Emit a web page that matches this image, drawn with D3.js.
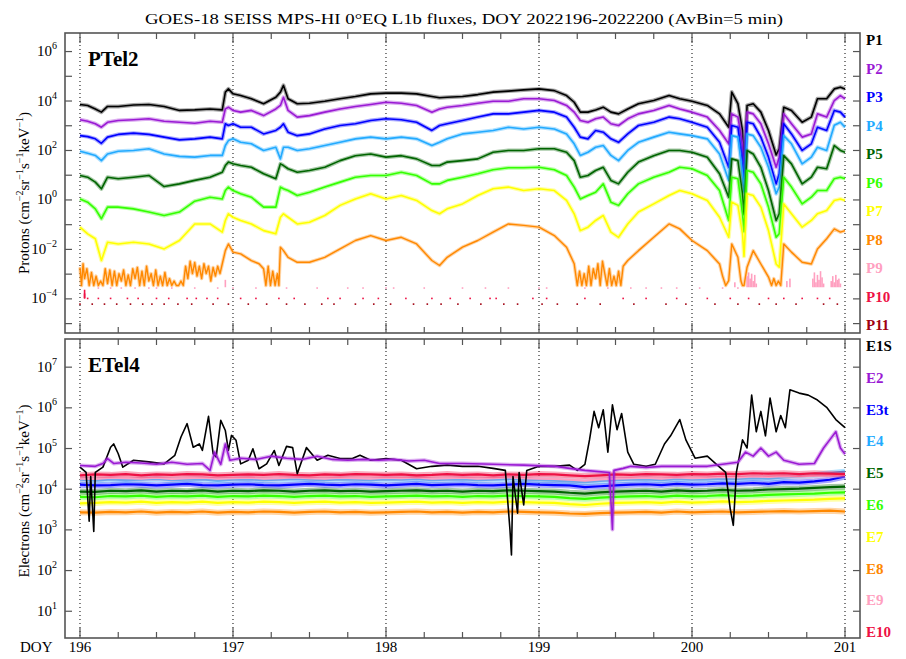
<!DOCTYPE html>
<html><head><meta charset="utf-8">
<script src="https://cdn.jsdelivr.net/npm/d3@7"></script>
<style>
body{margin:0;background:#fff}
svg{display:block}
text{font-family:"Liberation Serif","DejaVu Serif",serif;fill:#000}
</style>
</head><body>
<svg id="chart" width="906" height="659"></svg>
<script>
// ---- Proton telescope (PTel2), log10 flux, sampled at pT (day of year) ----
const pT = [196.00,196.05,196.10,196.14,196.18,196.25,196.35,196.45,196.55,196.65,196.75,196.85,196.93,196.95,196.97,197.00,197.05,197.12,197.20,
197.28,197.31,197.33,197.36,197.42,197.50,197.60,197.70,197.80,197.90,198.00,198.10,198.20,198.30,198.35,198.40,198.50,
198.60,198.70,198.80,198.90,199.00,199.10,199.18,199.23,199.27,199.32,199.37,199.42,199.47,199.52,199.58,199.65,199.75,199.85,
199.92,200.00,200.10,200.18,200.24,200.26,200.30,200.33,200.34,200.36,200.40,200.45,200.50,200.55,200.57,200.60,200.65,200.72,200.78,200.82,200.88,200.93,200.97,201.00];

const P1 = [3.84,3.80,3.66,3.53,3.76,3.76,3.82,3.84,3.76,3.60,3.62,3.66,3.62,4.34,4.47,4.27,4.20,4.07,3.87,
4.13,4.34,4.61,4.07,3.87,3.89,3.97,4.07,4.16,4.27,4.30,4.30,4.27,4.16,4.11,4.13,4.16,
4.24,4.34,4.38,4.43,4.47,4.40,4.20,3.93,3.53,3.53,3.62,3.73,3.53,3.46,3.66,3.87,4.00,4.20,
4.07,3.97,3.80,3.46,2.92,4.34,3.87,2.79,1.20,3.80,3.87,3.53,2.79,1.80,2.05,3.73,3.60,3.12,3.33,4.07,4.07,4.47,4.54,4.47];
const P2 = [3.22,3.16,3.06,2.92,3.12,3.19,3.22,3.26,3.16,3.12,3.08,3.16,3.12,3.66,3.73,3.60,3.53,3.60,3.39,
3.66,3.80,4.13,3.60,3.33,3.39,3.53,3.66,3.76,3.84,3.93,3.89,3.80,3.53,3.66,3.73,3.80,
3.89,3.97,3.97,4.07,4.07,4.00,3.80,3.53,3.19,3.12,3.26,3.33,3.06,2.99,3.26,3.46,3.60,3.80,
3.66,3.53,3.33,2.79,2.25,3.46,3.33,2.25,0.90,3.53,3.46,3.06,2.25,1.30,1.71,3.46,3.06,2.52,2.65,3.46,3.33,4.00,4.20,4.07];
const P3 = [2.58,2.54,2.45,2.27,2.52,2.63,2.68,2.63,2.52,2.41,2.45,2.52,2.45,3.06,2.99,3.06,2.92,2.92,2.65,
2.79,2.92,3.06,2.72,2.58,2.65,2.85,2.99,3.06,3.19,3.26,3.22,3.12,2.79,2.99,3.06,3.19,
3.33,3.46,3.46,3.53,3.60,3.53,3.33,2.92,2.52,2.45,2.79,2.72,2.45,2.31,2.65,2.99,3.12,3.33,
3.26,3.12,2.92,2.31,1.30,2.99,2.92,1.57,0.60,3.12,3.06,2.52,1.71,0.63,1.04,3.06,2.65,1.98,2.25,2.92,2.79,3.60,3.53,3.33];
const P4 = [1.95,1.87,1.78,1.57,1.84,1.95,1.98,2.05,1.84,1.74,1.71,1.78,1.78,2.18,2.38,2.45,2.31,2.25,1.98,
2.11,1.64,2.11,2.11,1.98,2.05,2.18,2.31,2.45,2.52,2.45,2.52,2.45,2.18,2.31,2.45,2.65,
2.72,2.79,2.92,2.85,2.92,2.85,2.65,2.25,1.78,1.91,2.11,2.18,1.78,1.57,1.98,2.31,2.52,2.72,
2.65,2.58,2.45,1.84,0.77,2.58,2.52,1.04,0.30,2.65,2.58,2.11,1.30,0.23,0.50,2.58,2.25,1.44,1.71,2.11,1.98,3.00,3.12,2.92];
const P5 = [0.97,0.90,0.70,0.43,0.90,0.84,0.90,0.97,0.52,0.63,0.77,0.90,1.10,1.37,1.51,1.44,1.37,1.30,1.04,
0.84,1.44,1.37,1.24,1.10,1.17,1.30,1.57,1.77,1.84,1.71,1.77,1.64,1.37,1.37,1.51,1.57,
1.64,1.91,1.98,1.98,2.05,2.05,1.91,1.57,0.90,0.97,1.17,1.30,0.77,0.63,1.10,1.51,1.77,1.98,
1.98,1.91,1.71,1.04,0.09,1.64,1.57,0.23,-0.60,1.98,1.84,1.30,0.36,-0.85,-0.58,1.77,1.44,0.63,0.90,1.30,1.24,2.18,1.98,1.91];
const P6 = [0.02,-0.11,-0.38,-0.78,-0.31,-0.31,-0.38,-0.51,-0.65,-0.51,-0.07,0.09,0.02,0.36,0.50,0.36,0.23,0.09,-0.31,
-0.31,0.50,0.43,0.36,0.16,0.29,0.50,0.70,0.90,0.97,0.97,1.10,0.97,0.63,0.63,0.77,0.90,
1.04,1.20,1.28,1.28,1.30,1.20,0.97,0.50,0.02,0.16,0.29,0.63,-0.11,-0.24,0.23,0.63,0.90,1.10,
1.30,1.24,0.97,0.36,-0.85,0.90,0.84,-0.58,-1.30,1.17,1.10,0.63,-0.31,-1.53,-1.39,0.90,0.50,-0.18,0.09,0.36,0.36,0.84,0.90,0.84];
const P7 = [-1.12,-1.39,-1.59,-2.47,-1.73,-1.80,-1.73,-1.80,-2.00,-1.66,-0.99,-0.99,-1.32,-0.85,-0.58,-0.72,-0.85,-0.99,-1.26,
-1.39,-0.72,-0.58,-0.72,-0.99,-0.92,-0.65,-0.24,0.02,0.23,0.02,0.16,-0.04,-0.45,-0.58,-0.38,-0.18,
0.16,0.43,0.50,0.36,0.43,0.36,-0.04,-0.58,-1.26,-1.12,-0.85,-0.65,-1.32,-1.53,-0.99,-0.51,-0.18,0.16,
0.36,0.23,-0.04,-0.72,-1.53,-0.11,-0.24,-1.39,-2.30,0.23,0.16,-0.31,-1.26,-2.61,-2.74,-0.18,-0.58,-1.12,-0.85,-0.58,-0.45,-0.04,0.02,-0.04];

// P8 is count-limited: its own sampling, floor at one count (-3.48)
const p8T = [196.00,196.01,196.02,196.03,196.045,196.06,196.075,196.09,196.105,196.12,196.135,196.15,196.165,196.18,196.195,196.21,196.225,196.24,196.255,196.27,196.285,196.30,196.315,196.33,196.345,196.36,196.375,196.39,196.405,196.42,196.435,196.45,196.465,196.48,196.495,196.51,196.525,196.54,196.555,196.57,196.585,196.60,196.615,196.63,196.645,196.66,196.675,196.69,196.705,196.72,196.735,196.75,196.765,196.78,196.795,196.81,196.825,196.84,196.855,196.87,196.885,196.90,196.915,196.93,196.95,196.97,197.00,197.05,197.12,197.17,197.20,197.215,197.23,197.245,197.26,197.275,197.29,197.30,
197.31,197.33,197.36,197.42,197.50,197.60,197.70,197.80,197.90,198.00,198.10,198.20,198.30,198.35,198.40,198.50,198.60,198.70,198.80,198.90,199.00,199.10,199.18,199.23,
199.25,199.265,199.28,199.295,199.31,199.325,199.34,199.355,199.37,199.385,199.40,199.415,199.43,199.445,199.46,199.475,199.49,199.505,199.52,199.535,199.55,199.58,199.65,199.75,199.85,199.92,200.00,200.10,200.18,200.20,200.22,200.24,200.26,200.30,200.32,200.33,200.34,200.36,200.40,200.45,200.50,200.52,200.535,200.55,200.565,200.58,200.60,200.65,200.72,200.78,200.82,200.88,200.93,200.97,201.00];
const P8 = [-2.75,-3.48,-2.60,-3.20,-2.80,-3.48,-2.95,-3.48,-3.10,-3.48,-3.30,-3.48,-2.80,-3.40,-2.85,-3.48,-2.90,-3.48,-3.00,-3.30,-2.85,-3.48,-3.05,-3.48,-2.80,-3.20,-2.75,-3.48,-2.90,-3.48,-2.70,-3.30,-3.00,-3.48,-2.85,-3.48,-3.10,-3.48,-2.95,-3.48,-3.20,-3.48,-3.30,-3.48,-3.48,-3.30,-3.48,-2.70,-3.20,-2.50,-3.00,-2.55,-3.10,-2.70,-3.20,-2.60,-3.00,-2.70,-3.30,-2.75,-3.10,-2.70,-3.00,-2.60,-2.07,-1.80,-2.13,-2.20,-2.47,-2.60,-2.80,-3.48,-2.70,-3.48,-2.90,-3.48,-3.00,-3.48,
-1.93,-2.07,-2.34,-2.54,-2.54,-2.34,-2.00,-1.66,-1.46,-1.66,-1.53,-1.80,-2.47,-2.67,-2.34,-1.93,-1.66,-1.32,-0.99,-1.05,-1.12,-1.46,-1.93,-2.60,
-3.48,-2.90,-3.48,-3.00,-3.48,-2.70,-3.48,-2.80,-3.20,-2.60,-3.48,-2.50,-3.00,-3.48,-2.80,-3.48,-3.10,-3.48,-2.90,-3.48,-2.70,-2.47,-2.07,-1.53,-0.99,-1.19,-1.66,-2.07,-2.61,-3.10,-3.48,-3.28,-1.80,-2.34,-3.30,-3.48,-3.48,-2.74,-2.07,-2.61,-3.14,-3.48,-3.20,-3.48,-3.30,-3.48,-1.80,-2.13,-2.54,-2.61,-2.00,-1.59,-1.19,-1.32,-1.26];

// P9: sparse count samples (time, log10 flux)
const p9T = [196.12,196.20,196.27,196.36,196.45,196.50,196.60,196.75,196.90,196.95,197.00,197.15,197.35,197.55,197.75,197.85,198.00,198.05,198.25,198.50,198.65,198.80,199.00,199.05,199.30,199.45,199.60,199.70,199.80,199.90,200.05,200.20,200.28,200.30,200.36,200.37,200.38,200.39,200.40,200.41,200.42,200.62,200.64,200.79,200.80,200.81,200.82,200.83,200.84,200.85,200.86,200.91,200.92,200.93,200.94,200.95,200.96,200.97];
const P9 = [-3.55,-3.55,-3.55,-3.55,-3.55,-3.55,-3.55,-3.55,-3.55,-3.25,-3.55,-3.55,-3.55,-3.55,-3.55,-3.55,-3.55,-3.55,-3.55,-3.55,-3.55,-3.55,-3.55,-3.55,-3.55,-3.55,-3.55,-3.55,-3.55,-3.55,-3.55,-3.55,-3.35,-3.55,-3.10,-2.95,-3.20,-3.00,-3.30,-3.05,-3.40,-3.30,-3.20,-3.20,-2.95,-3.35,-3.05,-3.25,-2.90,-3.15,-3.40,-3.30,-3.10,-3.35,-3.05,-3.25,-3.20,-3.40];
// P10 / P11: isolated single-count samples
const p10T = [196.03,196.03,196.03,196.05,196.12,196.20,196.31,196.38,196.50,196.58,196.70,196.76,196.83,196.90,197.05,197.15,197.30,197.40,197.62,197.70,197.85,197.95,198.13,198.30,198.42,198.55,198.68,198.72,198.96,199.05,199.30,199.55,199.70,199.90,200.10,200.25,200.37,200.50,200.60,200.72,200.82,200.90];
const P10 = [-3.65,-3.80,-3.95,-3.97,-3.97,-3.97,-3.97,-3.97,-3.97,-3.97,-3.97,-3.97,-3.97,-3.97,-3.97,-3.97,-3.97,-3.97,-3.97,-3.97,-3.97,-3.97,-3.97,-3.97,-3.97,-3.97,-3.97,-3.97,-3.97,-3.97,-3.97,-3.97,-3.97,-3.97,-3.97,-3.97,-3.97,-3.97,-3.97,-3.97,-3.97,-3.97];
const p11T = [196.00,196.08,196.16,196.24,196.33,196.41,196.47,196.55,196.64,196.73,196.87,196.97,197.10,197.22,197.35,197.47,197.58,197.66,197.80,197.92,198.03,198.18,198.27,198.36,198.47,198.62,198.77,198.86,199.02,199.12,199.25,199.40,199.62,199.83,199.96,200.15,200.30,200.44,200.55,200.68,200.86,200.95];
const P11 = [-4.20,-4.20,-4.20,-4.20,-4.20,-4.20,-4.20,-4.20,-4.20,-4.20,-4.20,-4.20,-4.20,-4.20,-4.20,-4.20,-4.20,-4.20,-4.20,-4.20,-4.20,-4.20,-4.20,-4.20,-4.20,-4.20,-4.20,-4.20,-4.20,-4.20,-4.20,-4.20,-4.20,-4.20,-4.20,-4.20,-4.20,-4.20,-4.20,-4.20,-4.20,-4.20];

// ---- Electron telescope (ETel4), log10 flux ----
const e1T = [196.00,196.04,196.06,196.07,196.09,196.10,196.15,196.20,196.22,196.25,196.28,196.35,196.45,196.55,196.62,196.66,196.70,196.74,196.78,196.80,196.84,196.87,196.89,196.92,196.95,196.97,196.99,197.02,197.05,197.10,197.13,197.17,197.22,197.27,197.30,197.35,197.39,197.42,197.48,197.55,197.62,197.70,197.78,197.83,197.90,198.00,198.10,198.20,198.30,198.40,198.50,198.60,198.70,198.78,198.81,198.82,198.83,198.86,198.87,198.90,198.92,199.00,199.10,199.20,199.25,199.30,199.33,199.36,199.39,199.42,199.45,199.48,199.51,199.54,199.58,199.62,199.70,199.76,199.82,199.86,199.92,199.96,200.02,200.10,200.16,200.22,200.25,200.27,200.29,200.33,200.36,200.39,200.42,200.45,200.48,200.51,200.55,200.58,200.61,200.64,200.70,200.76,200.82,200.88,200.94,201.00];
const E1S = [4.53,4.40,3.20,4.30,2.95,4.40,4.53,5.02,5.10,4.86,4.53,4.70,4.66,4.61,4.82,5.27,5.60,5.02,5.10,4.94,5.78,4.86,4.78,5.68,5.43,4.94,5.31,5.19,4.61,4.70,4.98,4.49,4.61,4.94,4.57,5.04,5.01,4.37,5.01,4.70,4.82,4.74,4.74,4.82,4.70,4.74,4.70,4.49,4.55,4.58,4.55,4.55,4.50,4.45,3.00,2.37,4.30,3.40,4.40,3.60,4.45,4.55,4.55,4.58,4.45,4.60,5.20,5.90,5.50,5.94,4.90,6.06,5.45,5.85,4.90,4.60,4.55,4.60,5.10,5.30,5.70,5.20,4.75,4.80,4.60,4.40,3.50,3.10,4.40,5.20,5.00,6.30,5.40,5.90,5.30,6.23,5.40,5.80,5.50,6.43,6.35,6.30,6.18,6.00,5.70,5.50];
const e2T = [196.00,196.10,196.15,196.18,196.22,196.30,196.40,196.50,196.60,196.70,196.80,196.85,196.88,196.92,196.95,196.98,197.05,197.15,197.25,197.35,197.45,197.55,197.65,197.75,197.85,197.95,198.05,198.15,198.25,198.35,198.50,198.70,198.90,199.10,199.20,199.30,199.46,199.48,199.49,199.55,199.60,199.70,199.80,199.90,200.00,200.10,200.20,200.30,200.35,200.40,200.45,200.50,200.55,200.60,200.70,200.80,200.86,200.90,200.94,200.97,201.00];
const E2 = [4.57,4.55,4.62,4.74,4.62,4.65,4.63,4.60,4.65,4.60,4.62,4.45,4.90,4.60,5.10,4.70,4.75,4.72,4.80,4.75,4.72,4.80,4.72,4.70,4.72,4.70,4.72,4.68,4.70,4.62,4.62,4.60,4.58,4.55,4.50,4.45,4.40,3.00,4.45,4.50,4.55,4.52,4.55,4.55,4.55,4.55,4.60,4.65,4.90,4.80,5.00,4.80,4.90,4.70,4.60,4.62,5.00,5.20,5.40,5.00,4.85];
// flat channels share a 0.1-day sampling
const eT = [196.0,196.1,196.2,196.3,196.4,196.5,196.6,196.7,196.8,196.9,197.0,197.1,197.2,197.3,197.4,197.5,197.6,197.7,197.8,197.9,198.0,198.1,198.2,198.3,198.4,198.5,198.6,198.7,198.8,198.9,199.0,199.1,199.2,199.3,199.4,199.5,199.6,199.7,199.8,199.9,200.0,200.1,200.2,200.3,200.4,200.5,200.6,200.7,200.8,200.9,201.0];
const E3t = [4.10,4.08,4.09,4.11,4.10,4.08,4.10,4.12,4.09,4.08,4.10,4.11,4.09,4.08,4.10,4.12,4.10,4.09,4.11,4.10,4.08,4.10,4.12,4.09,4.10,4.11,4.09,4.08,4.10,4.12,4.10,4.09,4.08,4.04,4.06,4.08,4.10,4.11,4.09,4.12,4.10,4.11,4.13,4.12,4.14,4.12,4.16,4.15,4.18,4.22,4.30];
const E4 = [4.22,4.20,4.23,4.21,4.22,4.24,4.21,4.22,4.23,4.20,4.22,4.23,4.21,4.22,4.24,4.22,4.21,4.23,4.22,4.21,4.23,4.22,4.24,4.21,4.22,4.23,4.21,4.22,4.24,4.22,4.21,4.20,4.18,4.16,4.19,4.21,4.22,4.23,4.21,4.24,4.22,4.23,4.25,4.24,4.26,4.25,4.28,4.30,4.33,4.38,4.42];
const E5 = [3.93,3.92,3.95,3.94,3.96,3.93,3.95,3.94,3.96,3.93,3.95,3.94,3.96,3.95,3.93,3.95,3.96,3.94,3.95,3.93,3.94,3.95,3.96,3.94,3.95,3.93,3.95,3.94,3.96,3.95,3.94,3.93,3.90,3.88,3.91,3.93,3.94,3.95,3.93,3.96,3.94,3.95,3.97,3.95,3.96,3.98,3.99,4.00,4.02,4.04,4.05];
const E6 = [3.80,3.79,3.82,3.81,3.83,3.80,3.82,3.81,3.83,3.80,3.82,3.81,3.83,3.82,3.80,3.82,3.83,3.81,3.82,3.80,3.81,3.82,3.83,3.81,3.82,3.80,3.82,3.81,3.83,3.82,3.81,3.80,3.77,3.75,3.78,3.80,3.81,3.82,3.80,3.83,3.81,3.82,3.84,3.82,3.83,3.85,3.86,3.87,3.88,3.90,3.91];
const E7 = [3.64,3.65,3.67,3.66,3.68,3.65,3.67,3.66,3.68,3.65,3.67,3.66,3.68,3.67,3.65,3.67,3.68,3.66,3.67,3.65,3.66,3.67,3.68,3.66,3.67,3.65,3.67,3.66,3.68,3.67,3.66,3.65,3.62,3.60,3.63,3.65,3.66,3.67,3.65,3.68,3.66,3.67,3.69,3.67,3.68,3.70,3.71,3.72,3.73,3.75,3.76];
const E8 = [3.42,3.41,3.43,3.42,3.44,3.41,3.43,3.42,3.44,3.41,3.43,3.42,3.44,3.43,3.41,3.43,3.44,3.42,3.43,3.41,3.42,3.43,3.44,3.42,3.43,3.41,3.43,3.42,3.44,3.43,3.42,3.41,3.39,3.38,3.40,3.41,3.42,3.43,3.41,3.44,3.42,3.43,3.44,3.42,3.43,3.44,3.45,3.44,3.45,3.46,3.44];
const E9 = [4.25,4.24,4.27,4.26,4.25,4.27,4.24,4.26,4.27,4.25,4.26,4.27,4.25,4.26,4.28,4.26,4.25,4.27,4.26,4.25,4.27,4.26,4.28,4.25,4.26,4.27,4.25,4.26,4.28,4.26,4.25,4.24,4.22,4.20,4.23,4.25,4.26,4.27,4.25,4.28,4.26,4.27,4.29,4.28,4.30,4.29,4.31,4.30,4.32,4.33,4.34];
const E10 = [4.33,4.35,4.34,4.36,4.33,4.35,4.34,4.36,4.35,4.33,4.34,4.35,4.34,4.36,4.34,4.33,4.35,4.34,4.36,4.35,4.34,4.35,4.33,4.34,4.36,4.34,4.35,4.33,4.35,4.34,4.36,4.35,4.33,4.31,4.33,4.35,4.34,4.36,4.35,4.34,4.36,4.35,4.37,4.36,4.38,4.37,4.38,4.36,4.38,4.37,4.36];

const dayTicks = [196,197,198,199,200,201];
const pLabels = ["P1","P2","P3","P4","P5","P6","P7","P8","P9","P10","P11"];
const eLabels = ["E1S","E2","E3t","E4","E5","E6","E7","E8","E9","E10"];
const pColors = ["#000000","#9a1ad4","#0000ff","#22aaff","#006400","#33ff00","#ffff00","#ff8800","#ffa0c0","#ee1144","#a00010"];
const eColors = ["#000000","#9a1ad4","#0000ff","#22aaff","#006400","#33ff00","#ffff00","#ff8800","#ffa0c0","#ee1144"];

// ---- layout ----
const svg = d3.select("#chart");
const L = 65, R = 860;
const x = d3.scaleLinear().domain([195.902, 201.098]).range([L, R]);
const yP = d3.scaleLog().domain([Math.pow(10,-5.4), Math.pow(10,6.73)]).range([333, 33]);
const yE = d3.scaleLog().domain([Math.pow(10,0.33), Math.pow(10,7.68)]).range([638, 339]);
const pow = v => Math.pow(10, v);

svg.append("text").attr("x", 145).attr("y", 24)
  .attr("textLength", 638).attr("lengthAdjust", "spacingAndGlyphs")
  .style("font-size", "15px")
  .text("GOES-18 SEISS MPS-HI 0°EQ L1b fluxes, DOY 2022196-2022200 (AvBin=5 min)");

const defs = svg.append("defs");
function panel(id, y, exps, labelEvery, name, title, tMid) {
  const [bot, top] = y.range();
  defs.append("clipPath").attr("id", id).append("rect")
    .attr("x", L).attr("y", top).attr("width", R - L).attr("height", bot - top);
  const g = svg.append("g");
  // dotted day lines
  g.selectAll("line.grid").data(dayTicks).join("line")
    .attr("x1", d => x(d)).attr("x2", d => x(d)).attr("y1", top).attr("y2", bot)
    .attr("stroke", "#000").attr("stroke-width", 1).attr("stroke-dasharray", "1,3");
  // y ticks (left and right, inward)
  const yt = exps.map(pow);
  g.append("g").attr("transform", `translate(${L},0)`)
    .call(d3.axisLeft(y).tickValues(yt).tickSize(-7).tickFormat(""))
    .call(a => a.select(".domain").remove())
    .call(a => a.selectAll("line").attr("stroke", "#555").attr("stroke-width", 1.2));
  g.append("g").attr("transform", `translate(${R},0)`)
    .call(d3.axisRight(y).tickValues(yt).tickSize(-7).tickFormat(""))
    .call(a => a.select(".domain").remove())
    .call(a => a.selectAll("line").attr("stroke", "#555").attr("stroke-width", 1.2));
  // x ticks (top and bottom, inward)
  const quarters = d3.range(196, 201.001, 0.25);
  [[top, 1], [bot, -1]].forEach(([yy, s]) => {
    g.selectAll(null).data(quarters).join("line")
      .attr("x1", d => x(d)).attr("x2", d => x(d))
      .attr("y1", yy).attr("y2", d => yy + s * (Math.abs(d - Math.round(d)) < 1e-6 ? 10 : 6))
      .attr("stroke", "#555").attr("stroke-width", 1.2);
  });
  // tick labels 10^n
  exps.filter(e => e % labelEvery === 0).forEach(e => {
    const t = g.append("text").attr("x", 57).attr("y", y(pow(e)) + 5)
      .attr("text-anchor", "end").style("font-size", "15px");
    t.append("tspan").text("10");
    t.append("tspan").attr("dy", -7).style("font-size", "10px").text(String(e).replace("-", "\u2212"));
  });
  // frame
  g.append("rect").attr("x", L).attr("y", top).attr("width", R - L).attr("height", bot - top)
    .attr("fill", "none").attr("stroke", "#555").attr("stroke-width", 1.6);
  // panel name
  g.append("text").attr("x", 88).attr("y", top + 33).style("font-size", "21px")
    .style("font-weight", "bold").text(name);
  // axis title
  const at = g.append("text").attr("transform", `translate(29,${tMid}) rotate(-90)`)
    .attr("text-anchor", "middle").style("font-size", "15px");
  at.append("tspan").text(title + " (cm");
  [["\u22122", "sr"], ["\u22121", "s"], ["\u22121", "keV"], ["\u22121", ")"]].forEach(([sup, after]) => {
    at.append("tspan").attr("dy", -6).style("font-size", "10px").text(sup);
    at.append("tspan").attr("dy", 6).text(after);
  });
  return g.append("g").attr("clip-path", `url(#${id})`);
}

const gp = panel("clipP", yP, d3.range(-5, 7), 2, "PTel2", "Protons", 193);
const ge = panel("clipE", yE, d3.range(1, 8), 1, "ETel4", "Electrons", 491);

// each channel: a soft wide stroke (sample scatter within the 5-min bins) under a crisp core
function drawLine(g, y, T, V, color, w, halo) {
  const pts = T.map((t, i) => [t, V[i]]);
  const gen = d3.line().x(d => x(d[0])).y(d => y(pow(d[1])));
  if (halo) g.append("path").datum(pts)
    .attr("fill", "none").attr("stroke", color).attr("stroke-width", halo)
    .attr("stroke-opacity", 0.35).attr("stroke-linejoin", "round").attr("d", gen);
  g.append("path").datum(pts)
    .attr("fill", "none").attr("stroke", color).attr("stroke-width", w)
    .attr("stroke-linejoin", "round").attr("d", gen);
}
function drawCounts(g, y, T, V, color, floorV) {
  g.selectAll(null).data(T.map((t, i) => [t, V[i]])).join("rect")
    .attr("x", d => x(d[0]) - 0.8).attr("width", 1.6)
    .attr("y", d => y(pow(d[1])))
    .attr("height", d => Math.max(1.6, y(pow(floorV)) - y(pow(d[1]))))
    .attr("fill", color);
}

// proton channels
[P1, P2, P3, P4, P5, P6, P7].forEach((V, i) => drawLine(gp, yP, pT, V, pColors[i], 1.6, 4));
drawLine(gp, yP, p8T, P8, pColors[7], 1.4, 3.5);
drawCounts(gp, yP, p9T, P9, pColors[8], -3.55);
drawCounts(gp, yP, p10T, P10, pColors[9], -3.97);
drawCounts(gp, yP, p11T, P11, pColors[10], -4.20);

// electron channels
[[E8,7],[E7,6],[E6,5],[E5,4],[E3t,2],[E4,3],[E9,8],[E10,9]].forEach(([V, i]) =>
  drawLine(ge, yE, eT, V, eColors[i], 2.2, 6));
drawLine(ge, yE, e1T, E1S, eColors[0], 1.6, 0);
drawLine(ge, yE, e2T, E2, eColors[1], 1.6, 4);

// channel legends
pLabels.forEach((s, i) => svg.append("text").attr("x", 866).attr("y", 45 + i * 28.5)
  .style("font-size", "15px").style("font-weight", "bold").style("fill", pColors[i]).text(s));
eLabels.forEach((s, i) => svg.append("text").attr("x", 866).attr("y", 351 + i * 31.8)
  .style("font-size", "15px").style("font-weight", "bold").style("fill", eColors[i]).text(s));

// day labels
svg.append("text").attr("x", 20).attr("y", 652).style("font-size", "15px").text("DOY");
dayTicks.forEach(d => svg.append("text").attr("x", x(d)).attr("y", 652)
  .attr("text-anchor", "middle").style("font-size", "15px").text(d));
</script>
</body></html>
